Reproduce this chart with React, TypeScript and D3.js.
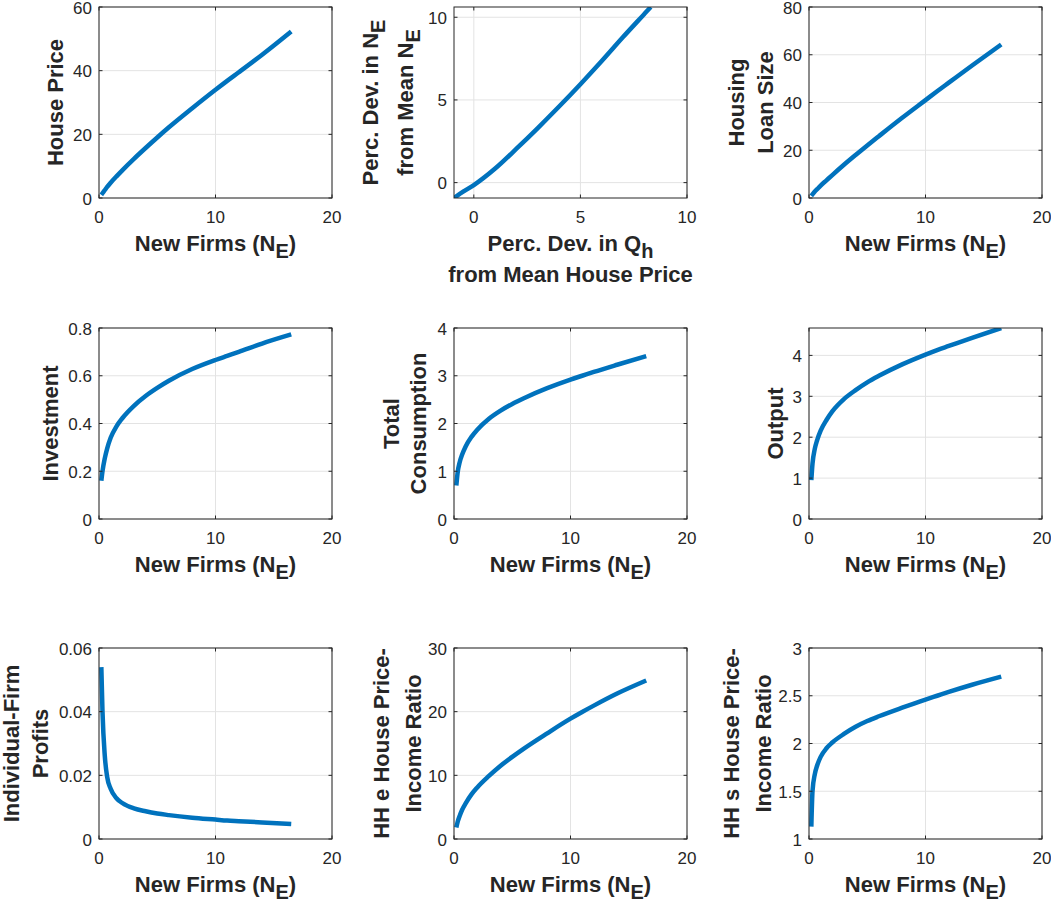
import React from "react";
import * as d3 from "d3";

// N_E grid shared by the "New Firms" panels
const newFirms = [0.2, 0.3, 0.5, 0.7, 1, 1.5, 2, 3, 4, 5, 6, 8, 10, 11, 12, 14, 16.5];

const housePrice = [1.0, 1.5, 2.5, 3.5, 4.8, 6.8, 8.7, 12.3, 15.7, 19.0, 22.2, 28.2, 34.0, 36.8, 39.5, 45.0, 52.3];
const loanSize = [0.9, 1.5, 2.7, 3.7, 5.2, 7.4, 9.6, 13.9, 18.0, 22.0, 25.9, 33.6, 41.0, 44.7, 48.3, 55.5, 64.3];
const investment = [0.16, 0.2, 0.255, 0.295, 0.34, 0.388, 0.422, 0.474, 0.515, 0.549, 0.579, 0.628, 0.666, 0.683, 0.7, 0.735, 0.773];
const consumption = [0.7, 0.95, 1.2, 1.35, 1.52, 1.72, 1.87, 2.1, 2.27, 2.41, 2.53, 2.74, 2.92, 3.0, 3.08, 3.23, 3.41];
const output = [0.95, 1.35, 1.72, 1.93, 2.16, 2.42, 2.63, 2.93, 3.15, 3.34, 3.5, 3.78, 4.02, 4.13, 4.23, 4.43, 4.67];
const profits = [0.054, 0.04, 0.026, 0.0195, 0.0158, 0.0128, 0.0113, 0.0096, 0.0087, 0.008, 0.0075, 0.0067, 0.0061, 0.0058, 0.0056, 0.0052, 0.0047];
const hheRatio = [1.8, 2.6, 3.7, 4.6, 5.6, 7.0, 8.1, 9.9, 11.5, 12.9, 14.2, 16.6, 18.9, 19.95, 20.95, 22.85, 24.9];
const hhsRatio = [1.13, 1.5, 1.68, 1.77, 1.86, 1.95, 2.01, 2.1, 2.175, 2.235, 2.285, 2.375, 2.46, 2.5, 2.54, 2.615, 2.7];

// percentage deviations panel
const qhDev = [-0.93, -0.5, 0, 1, 2, 3, 4, 5, 6, 7, 8, 8.3];
const neDev = [-0.93, -0.55, -0.15, 0.85, 2.05, 3.3, 4.6, 5.95, 7.35, 8.8, 10.2, 10.62];

const neTicks = [0, 10, 20];

type Seg = { t: string; sub?: boolean };
type Line = Seg[];

interface PanelDef {
  xs: number[];
  ys: number[];
  xDomain: [number, number];
  yDomain: [number, number];
  xTicks: number[];
  yTicks: number[];
  xLabel: Line[];
  yLabel: Line[];
  yLabelOffsets: number[];
}

const NE_LABEL: Line[] = [[{ t: "New Firms (N" }, { t: "E", sub: true }, { t: ")" }]];

const panels: PanelDef[] = [
  {
    xs: newFirms, ys: housePrice, xDomain: [0, 20], yDomain: [0, 60],
    xTicks: neTicks, yTicks: [0, 20, 40, 60], xLabel: NE_LABEL,
    yLabel: [[{ t: "House Price" }]], yLabelOffsets: [-36],
  },
  {
    xs: qhDev, ys: neDev, xDomain: [-0.93, 10], yDomain: [-0.93, 10.62],
    xTicks: [0, 5, 10], yTicks: [0, 5, 10],
    xLabel: [
      [{ t: "Perc. Dev. in Q" }, { t: "h", sub: true }],
      [{ t: "from Mean House Price" }],
    ],
    yLabel: [
      [{ t: "Perc. Dev. in N" }, { t: "E", sub: true }],
      [{ t: "from Mean N" }, { t: "E", sub: true }],
    ],
    yLabelOffsets: [-76, -41],
  },
  {
    xs: newFirms, ys: loanSize, xDomain: [0, 20], yDomain: [0, 80],
    xTicks: neTicks, yTicks: [0, 20, 40, 60, 80], xLabel: NE_LABEL,
    yLabel: [[{ t: "Housing" }], [{ t: "Loan Size" }]], yLabelOffsets: [-65, -36.5],
  },
  {
    xs: newFirms, ys: investment, xDomain: [0, 20], yDomain: [0, 0.8],
    xTicks: neTicks, yTicks: [0, 0.2, 0.4, 0.6, 0.8], xLabel: NE_LABEL,
    yLabel: [[{ t: "Investment" }]], yLabelOffsets: [-41.5],
  },
  {
    xs: newFirms, ys: consumption, xDomain: [0, 20], yDomain: [0, 4],
    xTicks: neTicks, yTicks: [0, 1, 2, 3, 4], xLabel: NE_LABEL,
    yLabel: [[{ t: "Total" }], [{ t: "Consumption" }]], yLabelOffsets: [-55, -28],
  },
  {
    xs: newFirms, ys: output, xDomain: [0, 20], yDomain: [0, 4.67],
    xTicks: neTicks, yTicks: [0, 1, 2, 3, 4], xLabel: NE_LABEL,
    yLabel: [[{ t: "Output" }]], yLabelOffsets: [-26.5],
  },
  {
    xs: newFirms, ys: profits, xDomain: [0, 20], yDomain: [0, 0.06],
    xTicks: neTicks, yTicks: [0, 0.02, 0.04, 0.06], xLabel: NE_LABEL,
    yLabel: [[{ t: "Individual-Firm" }], [{ t: "Profits" }]], yLabelOffsets: [-80, -51.5],
  },
  {
    xs: newFirms, ys: hheRatio, xDomain: [0, 20], yDomain: [0, 30],
    xTicks: neTicks, yTicks: [0, 10, 20, 30], xLabel: NE_LABEL,
    yLabel: [[{ t: "HH e House Price-" }], [{ t: "Income Ratio" }]], yLabelOffsets: [-65, -33],
  },
  {
    xs: newFirms, ys: hhsRatio, xDomain: [0, 20], yDomain: [1, 3],
    xTicks: neTicks, yTicks: [1, 1.5, 2, 2.5, 3], xLabel: NE_LABEL,
    yLabel: [[{ t: "HH s House Price-" }], [{ t: "Income Ratio" }]], yLabelOffsets: [-70, -38],
  },
];

const W = 1051;
const H = 905;
const COL_LEFT = [99, 454, 809];
const ROW_TOP = [7, 328, 648];
const BOX_W = 233;
const BOX_H = 191;
const FONT = "'Liberation Sans', Arial, Helvetica, sans-serif";
const AXIS_COLOR = "#262626";
const GRID_COLOR = "#e3e3e3";
const LINE_COLOR = "#0072BD";
const TICK_LEN = 3.5;

// subscripts sit ~7px below the baseline, almost full size (MATLAB tex style)
const renderSegs = (line: Line) =>
  line.map((s, i) =>
    s.sub ? (
      <tspan key={i} fontSize={20} dy={7}>{s.t}</tspan>
    ) : (
      <tspan key={i} dy={i > 0 && line[i - 1].sub ? -7 : 0}>{s.t}</tspan>
    )
  );

const fmt = (v: number) => String(+v.toFixed(4));

const Panel = ({ p, idx }: { p: PanelDef; idx: number }) => {
  const left = COL_LEFT[idx % 3];
  const top = ROW_TOP[Math.floor(idx / 3)];
  const x = d3.scaleLinear().domain(p.xDomain).range([0, BOX_W]);
  const y = d3.scaleLinear().domain(p.yDomain).range([BOX_H, 0]);
  const pts = p.xs.map((v, i) => [v, p.ys[i]] as [number, number]);
  const path = d3
    .line<[number, number]>()
    .x((d) => x(d[0]))
    .y((d) => y(d[1]))
    .curve(d3.curveMonotoneX)(pts);
  const clipId = `clip-${idx}`;

  return (
    <g transform={`translate(${left},${top})`}>
      <defs>
        <clipPath id={clipId}>
          <rect x={0} y={0} width={BOX_W} height={BOX_H} />
        </clipPath>
      </defs>
      <rect x={0} y={0} width={BOX_W} height={BOX_H} fill="#fff" />
      {/* grid */}
      {p.xTicks.map((t) => (
        <line key={`gx${t}`} x1={x(t)} x2={x(t)} y1={0} y2={BOX_H} stroke={GRID_COLOR} strokeWidth={1} />
      ))}
      {p.yTicks.map((t) => (
        <line key={`gy${t}`} x1={0} x2={BOX_W} y1={y(t)} y2={y(t)} stroke={GRID_COLOR} strokeWidth={1} />
      ))}
      <path
        d={path || ""}
        fill="none"
        stroke={LINE_COLOR}
        strokeWidth={4.5}
        strokeLinejoin="round"
        clipPath={`url(#${clipId})`}
      />
      {/* box */}
      <rect x={0} y={0} width={BOX_W} height={BOX_H} fill="none" stroke={AXIS_COLOR} strokeWidth={1} />
      {/* ticks, inward on all sides */}
      {p.xTicks.map((t) => (
        <g key={`tx${t}`}>
          <line x1={x(t)} x2={x(t)} y1={BOX_H} y2={BOX_H - TICK_LEN} stroke={AXIS_COLOR} />
          <line x1={x(t)} x2={x(t)} y1={0} y2={TICK_LEN} stroke={AXIS_COLOR} />
          <text x={x(t)} y={BOX_H + 25} textAnchor="middle" fontSize={17} fill={AXIS_COLOR} fontFamily={FONT}>
            {fmt(t)}
          </text>
        </g>
      ))}
      {p.yTicks.map((t) => (
        <g key={`ty${t}`}>
          <line x1={0} x2={TICK_LEN} y1={y(t)} y2={y(t)} stroke={AXIS_COLOR} />
          <line x1={BOX_W} x2={BOX_W - TICK_LEN} y1={y(t)} y2={y(t)} stroke={AXIS_COLOR} />
          <text x={-7} y={y(t) + 6.5} textAnchor="end" fontSize={17} fill={AXIS_COLOR} fontFamily={FONT}>
            {fmt(t)}
          </text>
        </g>
      ))}
      {/* x label */}
      {p.xLabel.map((line, i) => (
        <text
          key={`xl${i}`}
          x={BOX_W / 2}
          y={BOX_H + 53 + i * 31}
          textAnchor="middle"
          fontSize={22}
          fontWeight="bold"
          fill={AXIS_COLOR}
          fontFamily={FONT}
        >
          {renderSegs(line)}
        </text>
      ))}
      {/* y label */}
      {p.yLabel.map((line, i) => (
        <text
          key={`yl${i}`}
          transform={`translate(${p.yLabelOffsets[i]},${BOX_H / 2}) rotate(-90)`}
          textAnchor="middle"
          fontSize={22}
          fontWeight="bold"
          fill={AXIS_COLOR}
          fontFamily={FONT}
        >
          {renderSegs(line)}
        </text>
      ))}
    </g>
  );
};

const App = () => (
  <svg
    width={W}
    height={H}
    style={{ position: "absolute", left: 0, top: 0, background: "#fff" }}
  >
    {panels.map((p, i) => (
      <Panel key={i} p={p} idx={i} />
    ))}
  </svg>
);

export default App;
